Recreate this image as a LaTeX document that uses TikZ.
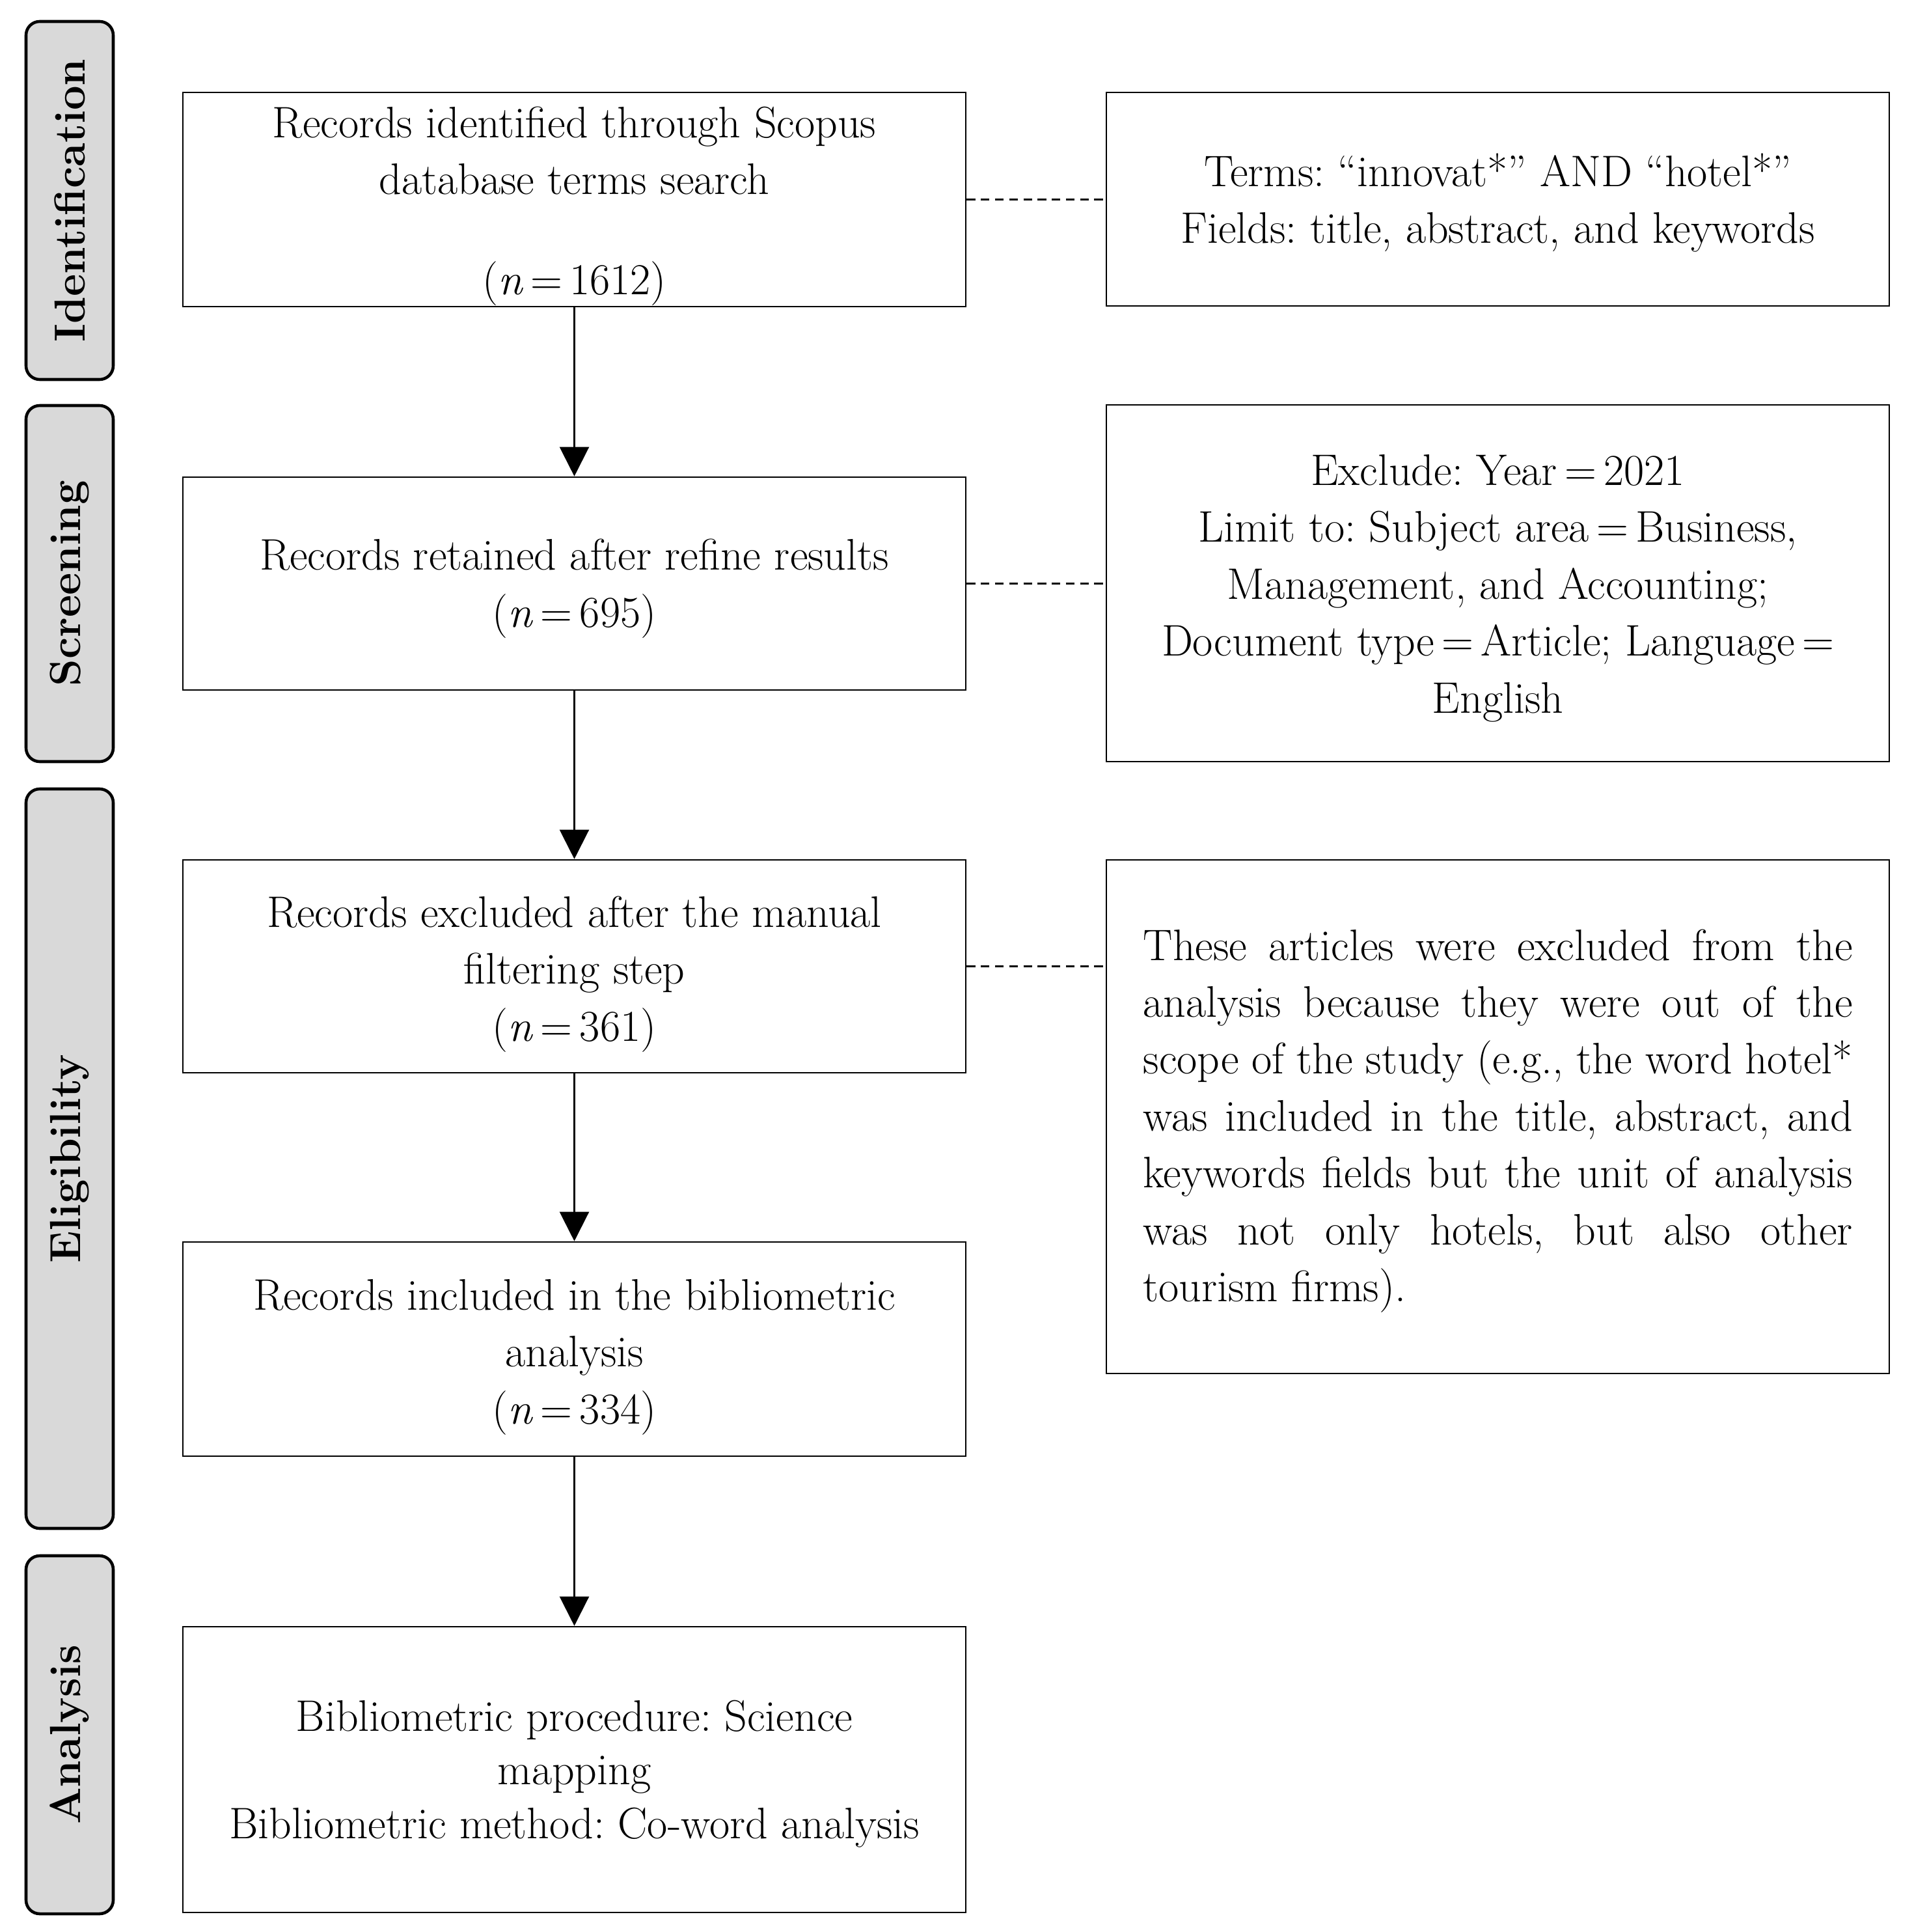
\documentclass[tikz,border=0pt]{standalone}
\usetikzlibrary{arrows.meta,calc}
\definecolor{tabgray}{HTML}{D9D9D9}
\begin{document}
\begin{tikzpicture}[x=1cm,y=1cm,
  mainbox/.style={draw=black, line width=0.75pt, fill=white, minimum width=12.03cm, inner sep=0pt},
  tab/.style={draw=black, line width=1.3pt, fill=tabgray, rounded corners=0.21cm, minimum height=1.34cm, inner sep=0pt, rotate=90, font=\fontsize{19}{23}\selectfont\bfseries},
  txt/.style={anchor=base, align=center, inner sep=0pt, font=\fontsize{19.3}{24.87}\selectfont\frenchspacing},
  jtxt/.style={anchor=base west, inner sep=0pt, font=\fontsize{19.3}{24.87}\selectfont\frenchspacing},
  flow/.style={-{Triangle[width=12.8pt,length=12.8pt]}, line width=0.65pt},
  link/.style={dash pattern=on 3.8pt off 2.4pt, line width=0.75pt}
]
\useasboundingbox (0,0) rectangle (29.40,-29.68);

% phase tabs
\node[tab, minimum width=5.50cm]  (t1) at (1.07,-3.08)   {Identification};
\node[tab, minimum width=5.47cm]  (t2) at (1.07,-8.965)  {Screening};
\node[tab, minimum width=11.36cm] (t3) at (1.07,-17.80)  {Eligibility};
\node[tab, minimum width=5.50cm]  (t4) at (1.07,-26.65)  {Analysis};

% main boxes
\node[mainbox, minimum height=3.29cm] (b1) at (8.825,-3.065) {};
\node[mainbox, minimum height=3.27cm] (b2) at (8.825,-8.965) {};
\node[mainbox, minimum height=3.27cm] (b3) at (8.825,-14.845) {};
\node[mainbox, minimum height=3.29cm] (b4) at (8.825,-20.725) {};
\node[mainbox, minimum height=4.39cm] (b5) at (8.825,-27.185) {};

% side boxes
\node[mainbox, minimum height=3.28cm] (r1) at (23.015,-3.06) {};
\node[mainbox, minimum height=5.48cm] (r2) at (23.015,-8.96) {};
\node[mainbox, minimum height=7.89cm] (r3) at (23.015,-17.155) {};

% main texts (base = baseline of last line)
\node[txt] (b1t) at (8.825,-4.52) {Records identified through Scopus\\database terms search\\[18.7pt](\textit{n}\,=\,1612)};
\node[txt] (b2t) at (8.825,-9.63) {Records retained after refine results\\(\textit{n}\,=\,695)};
\node[txt] (b3t) at (8.825,-15.99) {Records excluded after the manual\\filtering step\\(\textit{n}\,=\,361)};
\node[txt] (b4t) at (8.825,-21.87) {Records included in the bibliometric\\analysis\\(\textit{n}\,=\,334)};
\node[txt] (b5t) at (8.825,-28.24) {Bibliometric procedure: Science\\[-1.5pt]mapping\\[-1.5pt]Bibliometric method: Co-word analysis};

% side texts
\node[txt] (r1t) at (23.015,-3.74) {Terms: ``innovat*'' AND ``hotel*''\\Fields: title, abstract, and keywords};
\node[txt] (r2t) at (23.015,-10.95) {Exclude: Year\,=\,2021\\Limit to: Subject area\,=\,Business,\\Management, and Accounting;\\Document type\,=\,Article; Language\,=\\English};
\node[jtxt] (r3t) at (17.56,-14.75) {\parbox[t]{10.90cm}{\hyphenpenalty=10000 \tolerance=10000 \parindent=0pt These articles were excluded from the\linebreak analysis because they were out of the\linebreak scope of the study (e.g., the word hotel*\linebreak was included in the title, abstract, and\linebreak keywords fields but the unit of analysis\linebreak was not only hotels, but also other\linebreak tourism firms).}};

% flow arrows
\draw[flow] (b1) -- (b2);
\draw[flow] (b2) -- (b3);
\draw[flow] (b3) -- (b4);
\draw[flow] (b4) -- (b5);

% dashed links
\draw[link] (b1.east) -- (b1.east -| r1.west);
\draw[link] (b2.east) -- (b2.east -| r2.west);
\draw[link] (b3.east) -- (b3.east -| r3.west);
\end{tikzpicture}
\end{document}
